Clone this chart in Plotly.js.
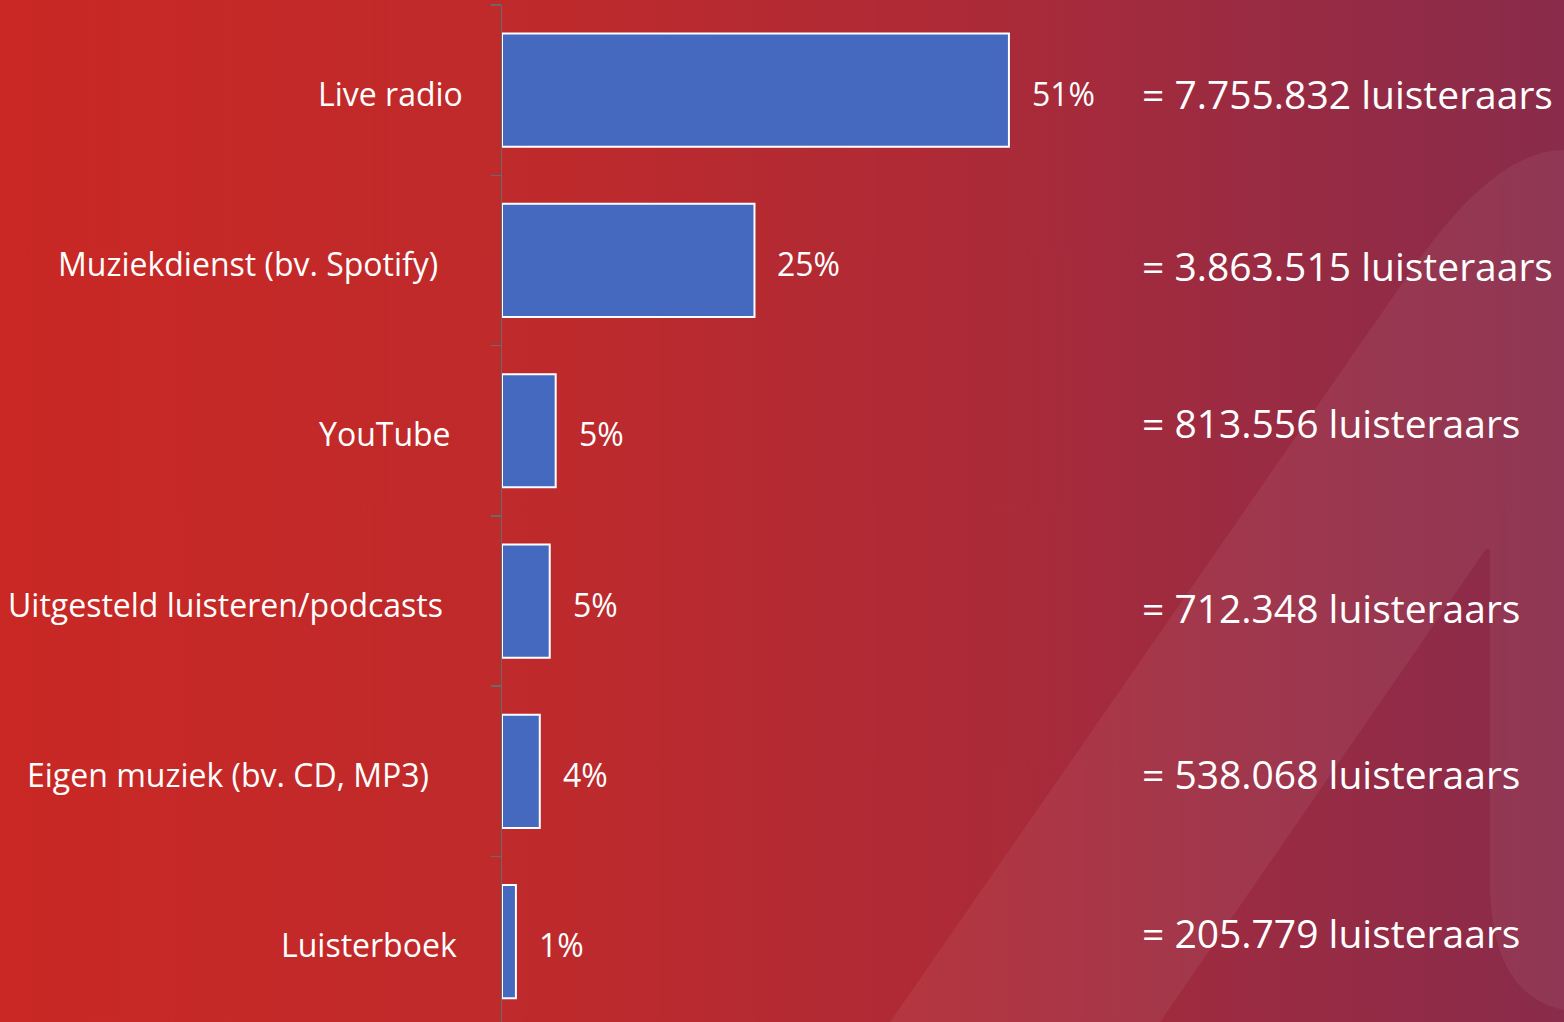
<!DOCTYPE html>
<html>
<head>
<meta charset="utf-8">
<script src="https://cdn.plot.ly/plotly-3.0.1.min.js"></script>
<style>
  html, body { margin: 0; padding: 0; overflow: hidden; }
  #chart {
    width: 1564px; height: 1022px;
    background: linear-gradient(to right, #C92824 0%, #BE2A2C 35%, #AE2A36 60%, #9A2B42 80%, #892B4B 100%);
  }
</style>
</head>
<body>
<div id="chart"></div>
<script>
// ---- data ----
const categories = [
  'Live radio',
  'Muziekdienst (bv. Spotify)',
  'YouTube',
  'Uitgesteld luisteren/podcasts',
  'Eigen muziek (bv. CD, MP3)',
  'Luisterboek'
];
const shares = [51.0, 25.4, 5.4, 4.8, 3.8, 1.4];
const shareLabels = ['51%', '25%', '5%', '5%', '4%', '1%'];
const listeners = ['7.755.832', '3.863.515', '813.556', '712.348', '538.068', '205.779'];

// ---- layout helpers (pixel placement of free-standing text / decoration) ----
const W = 1564, H = 1022;
const M = { l: 502, r: 14, t: 5, b: 0 };
const PW = W - M.l - M.r, PH = H - M.t - M.b;
const px = x => (x - M.l) / PW;
const py = y => (H - M.b - y) / PH;
const labelRight = [465, 440, 453, 445, 431, 459];
const rightLabelShift = [3, 5, -8, 6, 2, -9];

const font = 'Open Sans, Noto Sans, sans-serif';
const annotations = [];
categories.forEach((c, i) => {
  annotations.push({
    xref: 'paper', yref: 'y', x: px(labelRight[i]), y: c, xanchor: 'right', yanchor: 'middle',
    text: c, showarrow: false, yshift: -3,
    font: { family: font, size: 32, color: '#FFFFFF' }
  });
  annotations.push({
    xref: 'x', yref: 'y', x: shares[i], y: c, xanchor: 'left', yanchor: 'middle',
    text: shareLabels[i], showarrow: false, xshift: 21, yshift: -3,
    font: { family: font, size: 32, color: '#FFFFFF' }
  });
  annotations.push({
    xref: 'paper', yref: 'y', x: px(1140), y: c, xanchor: 'left', yanchor: 'middle',
    text: '= ' + listeners[i] + ' luisteraars', showarrow: false, yshift: -rightLabelShift[i],
    font: { family: font, size: 39, color: '#FFFFFF' }
  });
});

// decorative translucent logo shape (outer band minus inner triangle)
function P(x, y) { return px(x).toFixed(5) + ',' + py(y).toFixed(5); }
const decoPath =
  'M' + P(890, 1022) + ' L' + P(1415, 265) + ' Q' + P(1496, 150) + ' ' + P(1564, 150) +
  ' L' + P(1564, 1022) + ' Z ' +
  'M' + P(1160, 1022) + ' L' + P(1486, 549) + ' L' + P(1490, 549) + ' L' + P(1490, 880) +
  ' Q' + P(1490, 995) + ' ' + P(1564, 1010) + ' L' + P(1564, 1022) + ' Z';

const shapes = [{
  type: 'path', xref: 'paper', yref: 'paper', path: decoPath,
  fillcolor: 'rgba(255,255,255,0.06)', line: { width: 0 }, layer: 'below', fillrule: 'evenodd'
}];

const trace = {
  type: 'bar', orientation: 'h',
  x: shares, y: categories,
  marker: { color: '#4569BF', line: { color: '#FFFFFF', width: 2 } },
  hoverinfo: 'none'
};

const layout = {
  width: W, height: H,
  margin: M,
  paper_bgcolor: 'rgba(0,0,0,0)',
  plot_bgcolor: 'rgba(0,0,0,0)',
  showlegend: false,
  bargap: 0.335,
  xaxis: { range: [0, PW / 9.94], visible: false, fixedrange: true },
  yaxis: {
    type: 'category', categoryorder: 'array', categoryarray: categories,
    range: [-0.5 + PH / 170.3, -0.5],
    showline: true, linecolor: '#6A6A6A', linewidth: 1.5,
    ticks: 'outside', tickson: 'boundaries', ticklen: 10, tickcolor: '#6A6A6A', tickwidth: 1.5,
    showticklabels: false, showgrid: false, zeroline: false, fixedrange: true
  },
  annotations: annotations,
  shapes: shapes
};

Plotly.newPlot('chart', [trace], layout, { displayModeBar: false, staticPlot: true });
</script>
</body>
</html>
